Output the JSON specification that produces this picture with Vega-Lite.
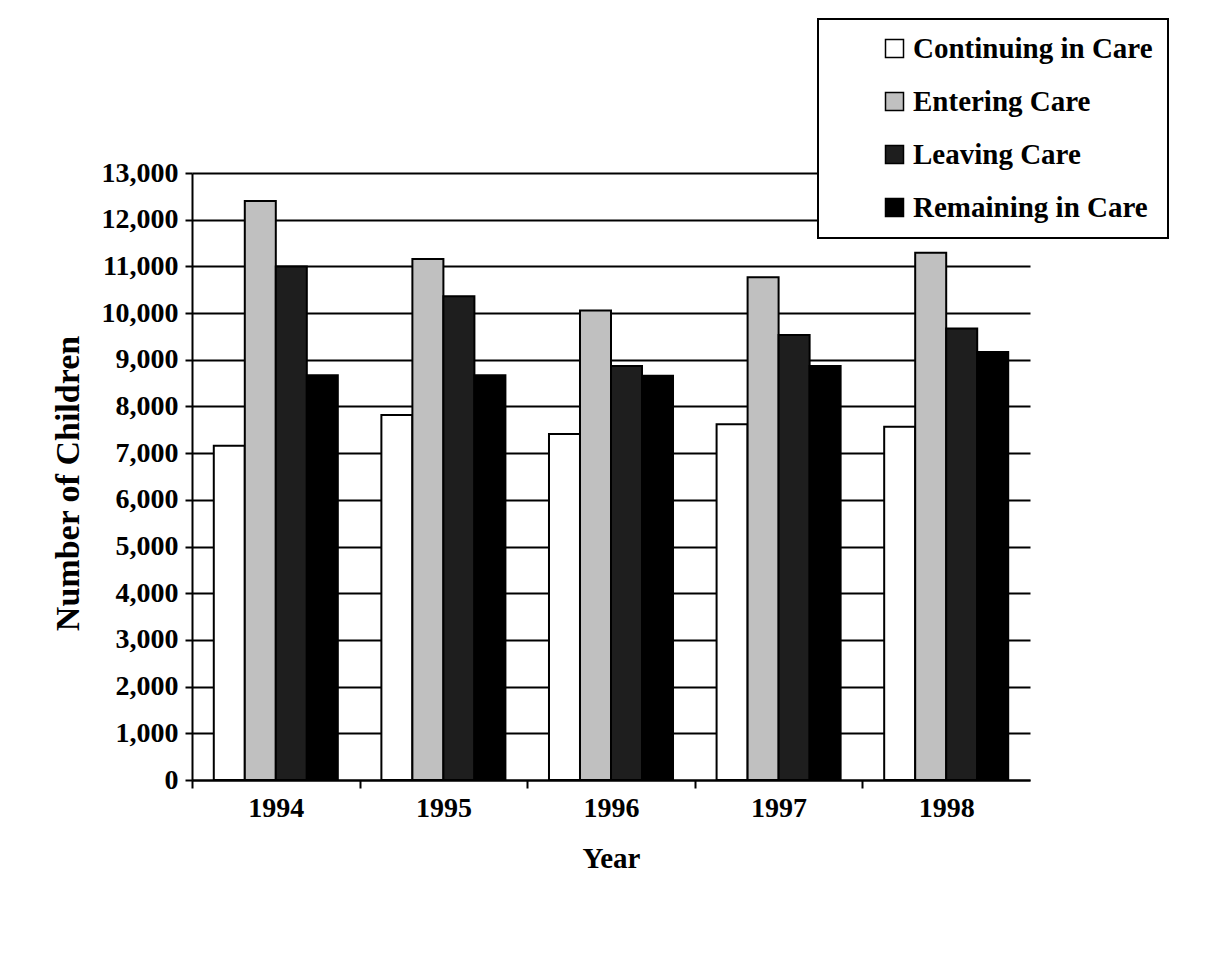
{
  "$schema": "https://vega.github.io/schema/vega-lite/v6.json",
  "autosize": "none",
  "width": 838,
  "height": 607,
  "padding": {"left": 192, "top": 173, "right": 183, "bottom": 176},
  "background": "white",
  "config": {
    "view": {"stroke": null},
    "font": "Liberation Serif",
    "axis": {"labelFont": "Liberation Serif", "titleFont": "Liberation Serif", "labelColor": "black", "titleColor": "black"},
    "legend": {"labelFont": "Liberation Serif"}
  },
  "data": {
    "values": [
      {"year": "1994", "status": "Continuing in Care", "count": 7160},
      {"year": "1994", "status": "Entering Care", "count": 12400},
      {"year": "1994", "status": "Leaving Care", "count": 11000},
      {"year": "1994", "status": "Remaining in Care", "count": 8670},
      {"year": "1995", "status": "Continuing in Care", "count": 7815},
      {"year": "1995", "status": "Entering Care", "count": 11160},
      {"year": "1995", "status": "Leaving Care", "count": 10360},
      {"year": "1995", "status": "Remaining in Care", "count": 8670},
      {"year": "1996", "status": "Continuing in Care", "count": 7410},
      {"year": "1996", "status": "Entering Care", "count": 10055},
      {"year": "1996", "status": "Leaving Care", "count": 8865},
      {"year": "1996", "status": "Remaining in Care", "count": 8660},
      {"year": "1997", "status": "Continuing in Care", "count": 7620},
      {"year": "1997", "status": "Entering Care", "count": 10765},
      {"year": "1997", "status": "Leaving Care", "count": 9530},
      {"year": "1997", "status": "Remaining in Care", "count": 8865},
      {"year": "1998", "status": "Continuing in Care", "count": 7565},
      {"year": "1998", "status": "Entering Care", "count": 11290},
      {"year": "1998", "status": "Leaving Care", "count": 9670},
      {"year": "1998", "status": "Remaining in Care", "count": 9165}
    ]
  },
  "mark": {"type": "bar", "stroke": "black", "strokeWidth": 2},
  "encoding": {
    "x": {
      "field": "year",
      "type": "nominal",
      "scale": {"paddingInner": 0.26, "paddingOuter": 0.13},
      "axis": {
        "title": "Year",
        "labelAngle": 0,
        "labelFontSize": 28,
        "labelFontWeight": "bold",
        "labelPadding": 6,
        "labelOffset": 83.8,
        "titleFontSize": 29,
        "titleFontWeight": "bold",
        "titlePadding": 22,
        "domainColor": "black",
        "domainWidth": 2,
        "ticks": true,
        "tickColor": "black",
        "tickWidth": 2,
        "tickSize": 8,
        "tickOffset": -83.8,
        "grid": false
      }
    },
    "xOffset": {
      "field": "status",
      "sort": ["Continuing in Care", "Entering Care", "Leaving Care", "Remaining in Care"]
    },
    "y": {
      "field": "count",
      "type": "quantitative",
      "scale": {"domain": [0, 13000], "nice": false},
      "axis": {
        "title": "Number of Children",
        "values": [0, 1000, 2000, 3000, 4000, 5000, 6000, 7000, 8000, 9000, 10000, 11000, 12000, 13000],
        "format": ",d",
        "labelFontSize": 28,
        "labelFontWeight": "bold",
        "labelPadding": 7,
        "titleFontSize": 34,
        "titleFontWeight": "bold",
        "titlePadding": 16,
        "titleY": 310,
        "domainColor": "black",
        "domainWidth": 2,
        "tickColor": "black",
        "tickWidth": 2,
        "tickSize": 7,
        "grid": true,
        "gridColor": "black",
        "gridWidth": 2,
        "gridOpacity": 1
      }
    },
    "color": {
      "field": "status",
      "type": "nominal",
      "scale": {
        "domain": ["Continuing in Care", "Entering Care", "Leaving Care", "Remaining in Care"],
        "range": ["#ffffff", "#c0c0c0", "#1e1e1e", "#000000"]
      },
      "legend": {
        "title": null,
        "orient": "none",
        "legendX": 626,
        "legendY": -154,
        "padding": 15,
        "strokeColor": "black",
        "fillColor": "white",
        "symbolType": "square",
        "symbolSize": 324,
        "symbolStrokeColor": "black",
        "symbolStrokeWidth": 1.5,
        "symbolOffset": 47,
        "labelFontSize": 29,
        "labelFontWeight": "bold",
        "labelColor": "black",
        "labelOffset": 4,
        "labelLimit": 600,
        "rowPadding": 23,
        "encode": {"legend": {"update": {"strokeWidth": {"value": 2}}}}
      }
    }
  }
}
